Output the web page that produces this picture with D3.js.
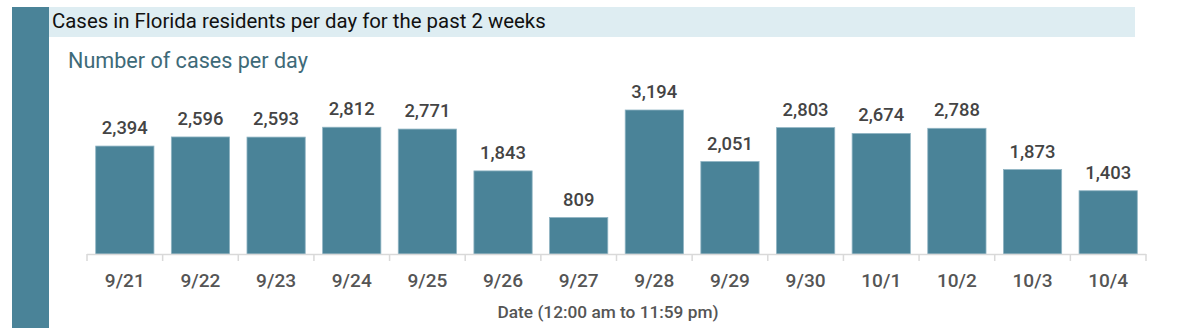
<!DOCTYPE html>
<html>
<head>
<meta charset="utf-8">
<script src="https://cdn.jsdelivr.net/npm/d3@7"></script>
<style>
body { margin: 0; background: #fff; }
svg { display: block; }
</style>
</head>
<body>
<div id="chart"></div>
<script>
var dates = ["9/21","9/22","9/23","9/24","9/25","9/26","9/27","9/28","9/29","9/30","10/1","10/2","10/3","10/4"]
var cases = [2394,2596,2593,2812,2771,1843,809,3194,2051,2803,2674,2788,1873,1403]

var W = 1200, H = 328
var font = "Roboto, 'Liberation Sans', Arial, sans-serif"

var svg = d3.select("#chart").append("svg")
    .attr("width", W)
    .attr("height", H)

// shrink/grow a text's font size so it fills a target width
function fitWidth(sel, target){
    var node = sel.node()
    var fs = parseFloat(sel.attr("font-size"))
    var w = node.getComputedTextLength()
    if (w > 0) sel.attr("font-size", fs * target / w)
    return +sel.attr("font-size")
}

// left accent bar + title band
svg.append("rect").attr("x", 12).attr("y", 7).attr("width", 37).attr("height", H - 7).attr("fill", "#4a8398")
svg.append("rect").attr("x", 49).attr("y", 7).attr("width", 1086).attr("height", 30).attr("fill", "#deedf2")

var title = svg.append("text")
    .attr("x", 52).attr("y", 28)
    .attr("font-family", font).attr("font-size", 17)
    .attr("fill", "#111")
    .text("Cases in Florida residents per day for the past 2 weeks")
fitWidth(title, 494)

var sub = svg.append("text")
    .attr("x", 68).attr("y", 68)
    .attr("font-family", font).attr("font-size", 19)
    .attr("fill", "#3e6a78")
    .text("Number of cases per day")
fitWidth(sub, 240)

// scales
var x = d3.scaleBand().domain(dates).range([87, 1146]).paddingInner(0.23).paddingOuter(0.115)
var y = d3.scaleLinear().domain([0, 3194]).range([254, 110])

// bars
svg.selectAll(".bar").data(cases).enter()
    .append("rect")
    .attr("class", "bar")
    .attr("x", function(d, i){ return x(dates[i]) })
    .attr("width", x.bandwidth())
    .attr("y", function(d){ return y(d) })
    .attr("height", function(d){ return y(0) - y(d) })
    .attr("fill", "#4a8398")
    .attr("stroke", "#8fb4c3")
    .attr("stroke-width", 0.8)

// value labels, size taken from the first label's width
var probe = svg.append("text").attr("font-family", font).attr("font-size", 19)
    .attr("font-weight", 500).text("2,394")
var valSize = fitWidth(probe, 46)
probe.remove()

svg.selectAll(".val").data(cases).enter()
    .append("text")
    .attr("class", "val")
    .attr("x", function(d, i){ return x(dates[i]) + x.bandwidth() / 2 })
    .attr("y", function(d){ return y(d) - 12 })
    .attr("text-anchor", "middle")
    .attr("font-family", font).attr("font-size", valSize).attr("font-weight", 500)
    .attr("fill", "#444")
    .text(function(d){ return d3.format(",")(d) })

// x axis: line + ticks at band boundaries
var axis = svg.append("g")
axis.append("line")
    .attr("x1", 87).attr("x2", 1146).attr("y1", 254.5).attr("y2", 254.5)
    .attr("stroke", "#d9d9d9").attr("stroke-width", 1.5)
axis.selectAll(".tk").data(d3.range(dates.length + 1)).enter()
    .append("line")
    .attr("x1", function(i){ return 87 + i * x.step() })
    .attr("x2", function(i){ return 87 + i * x.step() })
    .attr("y1", 254).attr("y2", 261)
    .attr("stroke", "#d9d9d9").attr("stroke-width", 1.5)

var probe2 = svg.append("text").attr("font-family", font).attr("font-size", 19)
    .attr("font-weight", 500).text("9/21")
var tickSize = fitWidth(probe2, 40)
probe2.remove()

axis.selectAll(".lbl").data(dates).enter()
    .append("text")
    .attr("x", function(d){ return x(d) + x.bandwidth() / 2 })
    .attr("y", 287)
    .attr("text-anchor", "middle")
    .attr("font-family", font).attr("font-size", tickSize).attr("font-weight", 500)
    .attr("fill", "#555")
    .text(function(d){ return d })

var xt = svg.append("text")
    .attr("x", 608).attr("y", 318)
    .attr("text-anchor", "middle")
    .attr("font-family", font).attr("font-size", 16).attr("font-weight", 500)
    .attr("fill", "#555")
    .text("Date (12:00 am to 11:59 pm)")
fitWidth(xt, 221)
</script>
</body>
</html>
